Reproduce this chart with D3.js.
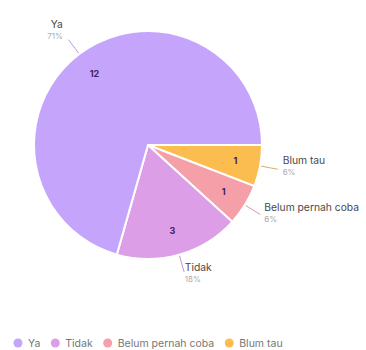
<!DOCTYPE html>
<html>
<head>
<meta charset="utf-8">
<script src="https://cdn.jsdelivr.net/npm/d3@7"></script>
<style>
  body { margin: 0; background: #fff; }
  text { font-family: Inter, Roboto, "Noto Sans", sans-serif; }
</style>
</head>
<body>
<div id="chart"></div>
<script>
// Data
const categories = ["Blum tau", "Belum pernah coba", "Tidak", "Ya"];
const values = [1, 1, 3, 12];
const colors = ["#fbbd4f", "#f5a0a8", "#dd9ee8", "#c4a5fb"];
const legendOrder = ["Ya", "Tidak", "Belum pernah coba", "Blum tau"];

const width = 366, height = 350;
const cx = 148, cy = 145, r = 114;

const svg = d3.select("#chart").append("svg")
    .attr("width", width)
    .attr("height", height);

const data = categories.map((c, i) => ({ name: c, value: values[i], color: colors[i] }));
const total = d3.sum(values);

const pie = d3.pie()
    .value(d => d.value)
    .sort(null)
    .startAngle(Math.PI / 2)
    .endAngle(Math.PI / 2 + 2 * Math.PI);

const arcs = pie(data);
const arc = d3.arc().innerRadius(0).outerRadius(r);

const g = svg.append("g").attr("transform", `translate(${cx},${cy})`);

g.selectAll("path")
    .data(arcs)
    .enter()
    .append("path")
    .attr("d", arc)
    .attr("fill", d => d.data.color)
    .attr("stroke", "#fff")
    .attr("stroke-width", 2);

// value labels inside
const inner = d3.arc().innerRadius(r * 0.78).outerRadius(r * 0.78);
g.selectAll("text.val")
    .data(arcs)
    .enter()
    .append("text")
    .attr("class", "val")
    .attr("transform", d => `translate(${inner.centroid(d)})`)
    .attr("text-anchor", "middle")
    .attr("dy", "0.35em")
    .style("font-size", "9px")
    .style("font-weight", "bold")
    .style("fill", "#3d2360")
    .text(d => d.data.value);

// outer labels with leader lines
const pt = (a, rad) => [Math.sin(a) * rad, -Math.cos(a) * rad];

const outer = g.selectAll("g.lbl")
    .data(arcs)
    .enter()
    .append("g")
    .attr("class", "lbl");

outer.append("line")
    .attr("x1", d => pt((d.startAngle + d.endAngle) / 2, r + 1)[0])
    .attr("y1", d => pt((d.startAngle + d.endAngle) / 2, r + 1)[1])
    .attr("x2", d => pt((d.startAngle + d.endAngle) / 2, r + 18)[0])
    .attr("y2", d => pt((d.startAngle + d.endAngle) / 2, r + 18)[1])
    .attr("stroke", d => d3.color(d.data.color).darker(0.6))
    .attr("stroke-width", 0.8);

outer.each(function (d) {
    const a = (d.startAngle + d.endAngle) / 2;
    const p = pt(a, 138);
    const right = Math.sin(a) > 0;
    const sel = d3.select(this).append("text")
        .attr("text-anchor", right ? "start" : "end")
        .attr("transform", `translate(${p[0] + (right ? -1 : -2)},${p[1]})`);
    sel.append("tspan")
        .attr("x", 0)
        .attr("y", -6.5)
        .style("font-size", "10.3px")
        .style("fill", "#4a4a4a")
        .text(d.data.name);
    sel.append("tspan")
        .attr("x", 0)
        .attr("y", 4.5)
        .style("font-size", "8px")
        .style("fill", "#aaa")
        .text(Math.round(d.data.value / total * 100) + "%");
});

// Legend
const legend = svg.append("g").attr("transform", "translate(0,343)");
let lx = 18;
legendOrder.forEach(name => {
    const i = categories.indexOf(name);
    const item = legend.append("g").attr("transform", `translate(${lx},0)`);
    item.append("circle")
        .attr("r", 4.5)
        .attr("fill", colors[i]);
    const t = item.append("text")
        .attr("x", 10)
        .attr("dy", "0.35em")
        .style("font-size", "10.5px")
        .style("fill", "#777")
        .text(name);
    lx += 10 + t.node().getComputedTextLength() + 15;
});
</script>
</body>
</html>
